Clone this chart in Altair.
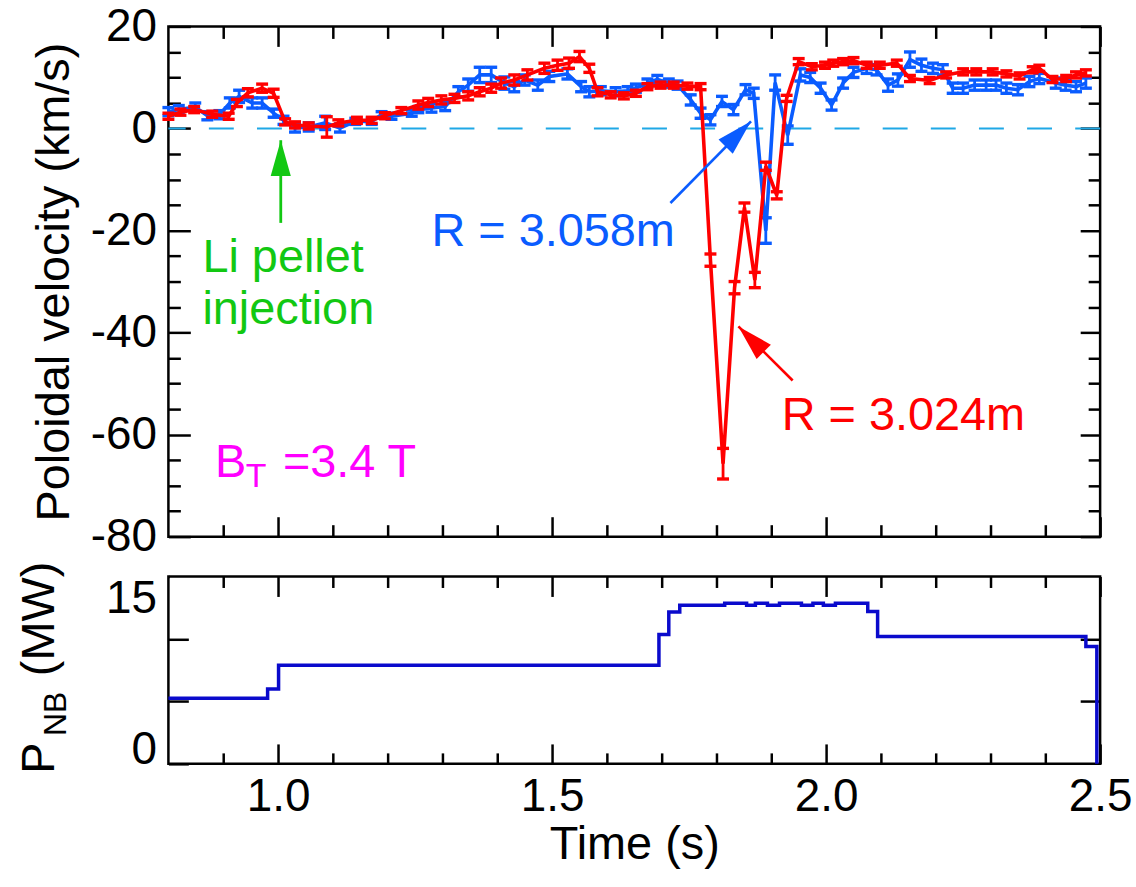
import altair as alt
import pandas as pd

FONT = "Liberation Sans"

# ---------------- data ----------------
blue_t = [0.800, 0.819, 0.849, 0.871, 0.893, 0.912, 0.929, 0.953, 0.971, 0.992,
          1.010, 1.031, 1.056, 1.086, 1.113, 1.141, 1.171, 1.189, 1.207, 1.244,
          1.256, 1.280, 1.305, 1.329, 1.347, 1.368, 1.389, 1.413, 1.431, 1.450,
          1.474, 1.495, 1.528, 1.553, 1.568, 1.589, 1.616, 1.638, 1.653, 1.674,
          1.692, 1.713, 1.729, 1.753, 1.771, 1.789, 1.810, 1.831, 1.853, 1.868,
          1.890, 1.907, 1.930, 1.953, 1.971, 1.990, 2.010, 2.031, 2.050, 2.074,
          2.092, 2.113, 2.131, 2.153, 2.174, 2.195, 2.213, 2.231, 2.250, 2.271,
          2.292, 2.310, 2.329, 2.350, 2.371, 2.389, 2.419, 2.437, 2.456, 2.474]
blue_v = [3.3, 3.7, 4.2, 2.5, 2.7, 5.0, 6.3, 5.0, 5.0, 3.0,
          1.6, 0.1, 0.3, 1.1, 0.1, 1.4, 1.4, 2.7, 2.4, 3.0,
          3.7, 4.0, 4.3, 7.2, 8.5, 10.5, 10.5, 8.9, 8.2, 9.5,
          8.5, 10.2, 10.7, 8.2, 7.2, 7.4, 7.2, 7.4, 7.9, 8.9,
          9.6, 8.9, 8.5, 5.6, 3.0, 1.7, 5.3, 3.7, 7.6, 6.9,
          -20.0, 9.0, -1.3, 10.5, 10.0, 7.9, 4.6, 8.9, 11.0, 11.8,
          11.5, 8.5, 9.5, 13.5, 12.4, 11.8, 11.5, 7.9, 7.9, 8.5,
          8.5, 8.5, 7.9, 7.6, 9.2, 9.8, 8.9, 8.5, 8.2, 8.9]
blue_e = [0.8, 0.8, 0.8, 0.8, 0.8, 1.0, 1.2, 1.0, 1.0, 0.8,
          0.8, 0.8, 0.8, 1.3, 0.8, 0.6, 0.6, 0.6, 0.6, 0.6,
          0.6, 0.8, 0.8, 1.0, 1.2, 1.5, 1.5, 1.2, 1.0, 1.0,
          1.0, 1.0, 1.0, 1.0, 1.0, 0.8, 0.8, 0.8, 0.8, 0.8,
          0.8, 0.8, 0.8, 1.0, 1.0, 1.0, 1.0, 1.0, 1.0, 1.0,
          2.5, 1.5, 1.8, 1.2, 1.0, 1.0, 1.0, 1.0, 1.0, 1.0,
          1.0, 1.2, 1.2, 1.5, 1.2, 1.0, 1.0, 1.0, 1.0, 1.0,
          1.0, 1.0, 1.0, 1.0, 1.0, 1.0, 1.0, 1.0, 1.0, 1.0]

red_t = [0.800, 0.822, 0.847, 0.880, 0.910, 0.925, 0.945, 0.971, 0.992, 1.013,
         1.031, 1.056, 1.089, 1.110, 1.144, 1.171, 1.195, 1.225, 1.256, 1.274,
         1.298, 1.322, 1.347, 1.368, 1.389, 1.407, 1.431, 1.455, 1.486, 1.510,
         1.531, 1.550, 1.568, 1.583, 1.607, 1.631, 1.653, 1.674, 1.698, 1.722,
         1.747, 1.771, 1.789, 1.812, 1.833, 1.851, 1.870, 1.890, 1.910, 1.928,
         1.950, 1.974, 1.998, 2.013, 2.031, 2.050, 2.074, 2.098, 2.129, 2.153,
         2.189, 2.219, 2.250, 2.274, 2.304, 2.329, 2.353, 2.377, 2.389, 2.413,
         2.438, 2.456, 2.474]
red_v = [2.4, 3.2, 3.7, 2.8, 2.4, 5.0, 7.0, 7.9, 6.9, 1.3,
         0.7, 0.5, 0.3, 1.1, 1.6, 1.6, 2.5, 3.5, 4.6, 5.1,
         5.6, 5.9, 6.4, 7.2, 7.9, 8.9, 9.5, 10.5, 11.8, 12.4,
         12.8, 14.1, 11.8, 7.2, 6.6, 6.4, 6.9, 8.2, 8.5, 8.5,
         8.3, 8.2, -25.8, -65.7, -31.2, -15.5, -29.7, -7.4, -13.1, 5.9,
         13.1, 12.1, 12.4, 12.8, 13.1, 13.3, 12.4, 12.4, 12.8, 9.8,
         9.4, 10.5, 11.1, 11.1, 11.1, 10.7, 10.3, 11.5, 11.8, 9.6,
         9.8, 10.5, 10.9]
red_e = [0.6, 0.6, 0.6, 0.6, 0.6, 0.7, 0.8, 0.8, 0.8, 0.6,
         0.6, 0.6, 2.0, 0.6, 0.6, 0.6, 0.6, 0.6, 0.8, 0.8,
         0.8, 0.8, 0.8, 0.8, 0.8, 1.0, 1.0, 1.0, 1.0, 1.0,
         1.0, 1.0, 0.8, 0.8, 0.6, 0.6, 0.6, 0.6, 0.6, 0.6,
         0.6, 0.6, 1.2, 3.0, 1.2, 0.9, 1.5, 0.8, 0.7, 0.6,
         0.6, 0.6, 0.6, 0.6, 0.6, 0.6, 0.6, 0.6, 0.6, 0.6,
         0.6, 0.6, 0.6, 0.6, 0.6, 0.6, 0.6, 0.6, 0.6, 0.6,
         0.6, 0.6, 0.6]

pnb_t = [0.800, 0.981, 1.001, 1.695, 1.713, 1.733, 1.815, 1.855, 1.871, 1.893,
         1.915, 1.955, 1.976, 1.995, 2.017, 2.076, 2.094, 2.474, 2.494]
pnb_p = [5.25, 6.0, 7.9, 10.35, 12.15, 12.7, 12.85, 12.7, 12.85, 12.7,
         12.85, 12.7, 12.85, 12.7, 12.85, 12.2, 10.2, 9.4, 0.0]

x_major = [1.0, 1.5, 2.0, 2.5]
x_minor = [0.9, 1.1, 1.2, 1.3, 1.4, 1.6, 1.7, 1.8, 1.9, 2.1, 2.2, 2.3, 2.4]
v_major = [-80, -60, -40, -20, 0, 20]
v_minor = [-75, -70, -65, -55, -50, -45, -35, -30, -25, -15, -10, -5, 5, 10, 15]
p_low = [0, 5, 10]
p_top = [15]
p_right = [5, 10]

# ---------------- styles ----------------
BLUE = "#0a5cff"
RED = "#ff0000"
GREEN = "#12c812"
MAGENTA = "#ff00ff"
DASH = "#1fa8e6"
NB = "#0a0acc"

W, H_TOP, H_BOT = 935, 512, 188
xs = alt.Scale(domain=[0.8, 2.5], nice=False, zero=False)
ys_top = alt.Scale(domain=[-80, 20], nice=False, zero=False)
ys_bot = alt.Scale(domain=[0, 15], nice=False, zero=False)

PLAIN = "'' + datum.value"


def mk_axis(orient, values, size, labels=False, **extra):
    opts = dict(orient=orient, values=values, tickSize=size, offset=-size,
                labels=labels, domain=False, grid=False, ticks=True,
                tickColor="black", tickWidth=2.5, labelFont=FONT,
                labelColor="black", labelFontSize=46, labelOverlap=False,
                titleFont=FONT, titleColor="black", titleFontSize=47,
                titleFontWeight="normal")
    if "title" not in extra:
        opts["title"] = None
    opts.update(extra)
    return alt.Axis(**opts)


bounds_top = pd.DataFrame({"x": [0.8, 2.5], "y": [-80, 20]})
bounds_bot = pd.DataFrame({"x": [0.8, 2.5], "y": [0, 15]})


def axis_layer(df, ys, xaxis, yaxis):
    return alt.Chart(df).mark_point(opacity=0).encode(
        x=alt.X("x:Q", scale=xs, axis=xaxis),
        y=alt.Y("y:Q", scale=ys, axis=yaxis),
    )


def series_layers(t, v, e, color):
    df = pd.DataFrame({"t": t, "v": v,
                       "lo": [a - b for a, b in zip(v, e)],
                       "hi": [a + b for a, b in zip(v, e)]})
    base = alt.Chart(df)
    X = alt.X("t:Q", scale=xs, axis=None)
    bars = base.mark_rule(color=color, strokeWidth=2.8).encode(
        x=X, y=alt.Y("lo:Q", scale=ys_top, axis=None), y2="hi:Q")
    line = base.mark_line(color=color, strokeWidth=3.6).encode(
        x=X, y=alt.Y("v:Q", scale=ys_top, axis=None))
    caps = []
    for f in ("lo", "hi"):
        caps.append(base.mark_point(shape="M-1,0L1,0", size=144, filled=False,
                                    color=color, strokeWidth=3.4, opacity=1).encode(
            x=X, y=alt.Y(f + ":Q", scale=ys_top, axis=None)))
    return [bars, line] + caps


def arrow(t_tail, v_tail, t_tip, v_tip, angle, color, width=2.6):
    df = pd.DataFrame({"t1": [t_tail], "v1": [v_tail], "t2": [t_tip], "v2": [v_tip]})
    shaft = alt.Chart(df).mark_rule(color=color, strokeWidth=width).encode(
        x=alt.X("t1:Q", scale=xs, axis=None), x2="t2:Q",
        y=alt.Y("v1:Q", scale=ys_top, axis=None), y2="v2:Q")
    head = alt.Chart(df).mark_point(shape="M0,0L-0.28,1L0.28,1Z", size=5184,
                                    filled=True, color=color, opacity=1,
                                    strokeWidth=0, angle=angle).encode(
        x=alt.X("t2:Q", scale=xs, axis=None),
        y=alt.Y("v2:Q", scale=ys_top, axis=None))
    return [shaft, head]


def note(t, v, text, color, size=47):
    df = pd.DataFrame({"t": [t], "v": [v], "s": [text]})
    return alt.Chart(df).mark_text(align="left", baseline="alphabetic",
                                   fontSize=size, font=FONT, color=color).encode(
        x=alt.X("t:Q", scale=xs, axis=None),
        y=alt.Y("v:Q", scale=ys_top, axis=None),
        text="s:N")


zero = alt.Chart(pd.DataFrame({"v": [0]})).mark_rule(
    color=DASH, strokeDash=[25, 23.3], strokeWidth=1.8).encode(
    y=alt.Y("v:Q", scale=ys_top, axis=None))

top_layers = [zero]
top_layers += series_layers(blue_t, blue_v, blue_e, BLUE)
top_layers += series_layers(red_t, red_v, red_e, RED)
top_layers += arrow(1.005, -18.5, 1.005, -2.3, 0, GREEN, 2.8)
top_layers += arrow(1.716, -14.6, 1.863, 1.4, 45, BLUE)
top_layers += arrow(1.939, -49.4, 1.840, -38.8, 315, RED)
top_layers += [
    note(0.862, -28.2, "Li pellet", GREEN),
    note(0.862, -38.3, "injection", GREEN),
    note(1.280, -23.0, "R = 3.058m", BLUE),
    note(1.919, -59.0, "R = 3.024m", RED),
    note(0.885, -68.3, "B", MAGENTA),
    note(0.941, -70.2, "T", MAGENTA, 34),
    note(1.009, -68.3, "=3.4 T", MAGENTA),
]
top_layers += [
    axis_layer(bounds_top, ys_top,
               mk_axis("bottom", x_major, 20),
               mk_axis("left", v_major, 22, labels=True, labelPadding=12,
                       labelExpr=PLAIN,
                       title="Poloidal velocity (km/s)", titlePadding=12)),
    axis_layer(bounds_top, ys_top, mk_axis("bottom", x_minor, 12),
               mk_axis("left", v_minor, 12)),
    axis_layer(bounds_top, ys_top, mk_axis("top", x_major, 20),
               mk_axis("right", v_major, 20)),
    axis_layer(bounds_top, ys_top, mk_axis("top", x_minor, 12),
               mk_axis("right", v_minor, 12)),
]

top = alt.layer(*top_layers).resolve_axis(x="independent", y="independent").properties(
    width=W, height=H_TOP)

# ---------------- bottom panel ----------------
pnb_df = pd.DataFrame({"t": pnb_t, "p": pnb_p})
pnb_line = alt.Chart(pnb_df).mark_line(color=NB, strokeWidth=3.5, interpolate="step-after").encode(
    x=alt.X("t:Q", scale=xs, axis=None),
    y=alt.Y("p:Q", scale=ys_bot, axis=None))

one = pd.DataFrame({"a": [0]})


def ytitle(text, x, y, size):
    return alt.Chart(one).mark_text(text=text, angle=270, align="left",
                                    baseline="alphabetic", fontSize=size,
                                    font=FONT, color="black").encode(
        x=alt.value(x), y=alt.value(y))


bot_layers = [
    pnb_line,
    ytitle("P", -115, 198, 47),
    ytitle("NB", -103, 160, 32),
    ytitle("(MW)", -115, 100, 47),
    axis_layer(bounds_bot, ys_bot,
               mk_axis("bottom", x_major, 20, labels=True, labelPadding=11,
                       format=".1f", labelFlush=False,
                       title="Time (s)", titlePadding=2),
               mk_axis("left", p_low, 20, labels=True, labelPadding=12,
                       labelFlush=False, labelBaseline="alphabetic",
                       labelExpr="datum.value == 0 ? '0' : ''")),
    axis_layer(bounds_bot, ys_bot, mk_axis("bottom", x_minor, 11),
               mk_axis("right", p_right, 20)),
    axis_layer(bounds_bot, ys_bot, mk_axis("top", x_major, 20),
               mk_axis("left", p_top, 1, labels=True, labelPadding=12,
                       labelFlush=False, labelBaseline="top",
                       labelExpr=PLAIN)),
    alt.Chart(bounds_bot).mark_point(opacity=0).encode(
        x=alt.X("x:Q", scale=xs, axis=mk_axis("top", x_minor, 11)),
        y=alt.Y("y:Q", scale=ys_bot, axis=None)),
]

bottom = alt.layer(*bot_layers).resolve_axis(x="independent", y="independent").properties(
    width=W, height=H_BOT)

chart = alt.vconcat(top, bottom, spacing=40, bounds="flush").properties(
    padding={"left": 14, "top": 0, "right": 2, "bottom": 5}
).configure(font=FONT).configure_view(stroke="black", strokeWidth=2.5)

chart.save("out.html", embed_options={"renderer": "svg", "actions": False})
